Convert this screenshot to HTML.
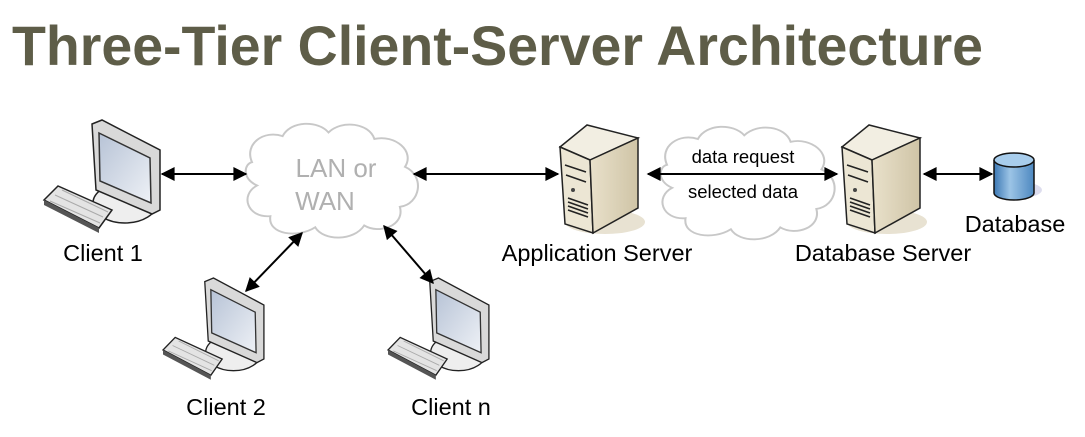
<!DOCTYPE html>
<html><head><meta charset="utf-8"><style>
html,body{margin:0;padding:0;background:#fff;}
svg{display:block;}
text{font-family:"Liberation Sans",Arial,sans-serif;}
</style></head><body>
<svg width="1085" height="437" viewBox="0 0 1085 437" xmlns="http://www.w3.org/2000/svg">
<defs>
<marker id="ah" viewBox="0 0 10 10" refX="9" refY="5" markerWidth="15" markerHeight="14" markerUnits="userSpaceOnUse" orient="auto-start-reverse"><path d="M0,0 L10,5 L0,10 z" fill="#000"/></marker>
<linearGradient id="scr" x1="0" y1="0" x2="1" y2="1"><stop offset="0" stop-color="#b7c3d6"/><stop offset="1" stop-color="#eef1f6"/></linearGradient>
<linearGradient id="side" x1="0" y1="0" x2="1" y2="0"><stop offset="0" stop-color="#e9e1cb"/><stop offset="1" stop-color="#cfc4a6"/></linearGradient>
<linearGradient id="cyl" x1="0" y1="0" x2="1" y2="0"><stop offset="0" stop-color="#3c78b4"/><stop offset="0.4" stop-color="#9cc4e6"/><stop offset="1" stop-color="#4d88c0"/></linearGradient>
<g id="pc">
 <ellipse cx="125" cy="203" rx="32" ry="20" fill="#eee" stroke="#222" stroke-width="1.5"/>
 <polygon points="92,124 102,120 160,150 160,210 152,214 96,190" fill="#d9d9d9" stroke="#222" stroke-width="1.5"/>
 <polygon points="99,133 150,158 151,203 100,181" fill="url(#scr)" stroke="#333" stroke-width="1.5"/>
 <polygon points="44,200 58,186 112,210 99,228" fill="#e4e4e4" stroke="#222" stroke-width="1.5"/>
 <polygon points="44,200 99,228 99,233 44,205" fill="#555"/>
 <path d="M55,195 L103,217 M50,201 L100,223 M62,190 L108,212" stroke="#aaa" stroke-width="1"/>
</g>
<g id="srv">
 <ellipse cx="605" cy="222" rx="40" ry="12" fill="#e8e2d2"/>
 <polygon points="560,147 587,125 638,138 590,160" fill="#f2eee2" stroke="#222" stroke-width="1.5"/>
 <polygon points="560,147 590,160 593,233 565,224" fill="#ece6d4" stroke="#222" stroke-width="1.5"/>
 <polygon points="590,160 638,138 638,208 593,233" fill="url(#side)" stroke="#222" stroke-width="1.5"/>
 <path d="M565,165 L586,172 M566,175 L586,182 M568,198 L588,205 M568,202 L588,209 M568,206 L588,213 M568,210 L588,217" stroke="#222" stroke-width="1.6"/>
 <circle cx="573" cy="190" r="2" fill="#444"/>
</g>
<path id="cloud" d="M0,40 C-8,20 12,5 30,12 C38,-5 65,-5 75,8 C88,-6 115,-2 120,15 C140,10 160,28 150,45 C170,55 165,85 145,88 C150,108 125,118 110,108 C100,125 70,125 62,110 C45,122 15,118 18,98 C-5,100 -12,75 5,65 C-10,58 -8,42 0,40 z" fill="#fff" stroke="#c8c8c8" stroke-width="2"/>
</defs>

<text x="12" y="65" font-size="56" font-weight="bold" fill="#5e5d48" textLength="971" lengthAdjust="spacingAndGlyphs">Three-Tier Client-Server Architecture</text>

<use href="#cloud" transform="translate(252,125) scale(1.02,0.93)"/>
<text x="336" y="177" font-size="26" fill="#b0b0b0" text-anchor="middle">LAN or</text>
<text x="325" y="210" font-size="26" fill="#b0b0b0" text-anchor="middle">WAN</text>

<use href="#cloud" transform="translate(667,128) scale(1.03,0.92)"/>

<use href="#pc"/>
<use href="#pc" transform="translate(163,278) scale(0.87,0.9) translate(-44,-120)"/>
<use href="#pc" transform="translate(388,278) scale(0.87,0.9) translate(-44,-120)"/>

<use href="#srv"/>
<use href="#srv" transform="translate(282,0)"/>

<g stroke="#000" stroke-width="2" fill="none">
 <line x1="162" y1="174" x2="246" y2="174" marker-start="url(#ah)" marker-end="url(#ah)"/>
 <line x1="414" y1="174" x2="558" y2="174" marker-start="url(#ah)" marker-end="url(#ah)"/>
 <line x1="648" y1="174" x2="837" y2="174" marker-start="url(#ah)" marker-end="url(#ah)"/>
 <line x1="924" y1="174" x2="992" y2="174" marker-start="url(#ah)" marker-end="url(#ah)"/>
 <line x1="302" y1="233" x2="246" y2="291" marker-start="url(#ah)" marker-end="url(#ah)"/>
 <line x1="384" y1="226" x2="433" y2="283" marker-start="url(#ah)" marker-end="url(#ah)"/>
</g>

<ellipse cx="1020" cy="190" rx="22" ry="8" fill="#dde"/>
<path d="M994,160 L994,193 A20,7 0 0 0 1034,193 L1034,160" fill="url(#cyl)" stroke="#111" stroke-width="1.5"/>
<ellipse cx="1014" cy="160" rx="20" ry="7" fill="#a8cdec" stroke="#111" stroke-width="1.5"/>

<g font-size="23.5" fill="#000" text-anchor="middle">
 <text x="103" y="261">Client 1</text>
 <text x="226" y="415">Client 2</text>
 <text x="451" y="415">Client n</text>
 <text x="597" y="261">Application Server</text>
 <text x="883" y="261">Database Server</text>
 <text x="1015" y="232">Database</text>
</g>
<g font-size="18.5" fill="#000" text-anchor="middle">
 <text x="743" y="163">data request</text>
 <text x="743" y="198">selected data</text>
</g>
</svg>
</body></html>
